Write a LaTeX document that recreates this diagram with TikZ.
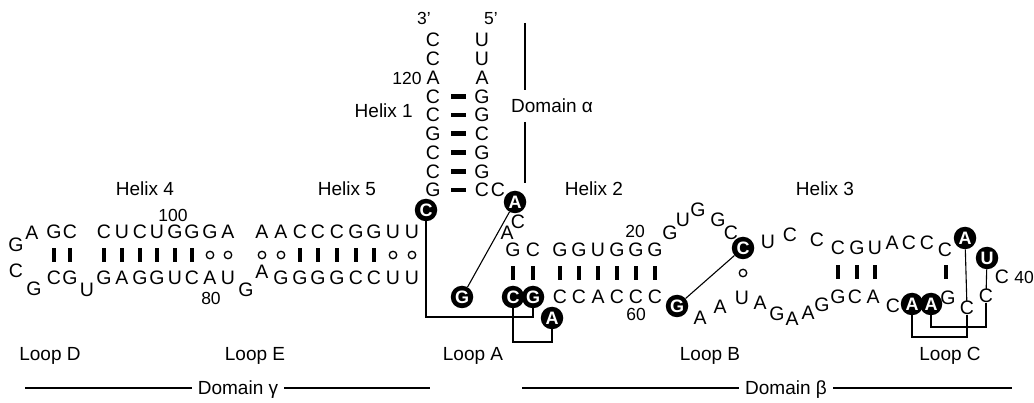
\documentclass[tikz,border=0pt]{standalone}
\usepackage{fontspec}
\setmainfont{Liberation Sans}
\begin{document}
\begin{tikzpicture}[x=1pt,y=-1pt,
  nt/.style={inner sep=0pt, font=\fontsize{19.5}{19.5}\selectfont, text height=14pt, text depth=0pt},
  num/.style={inner sep=0pt, font=\fontsize{17.5}{17.5}\selectfont, text height=12.5pt, text depth=0pt},
  lbl/.style={inner sep=0pt, font=\fontsize{19}{19}\selectfont, text height=13.6pt, text depth=0pt},
  bc/.style={circle, fill=black, text=white, inner sep=0pt, minimum size=22.5pt,
    font=\fontsize{18}{18}\selectfont\bfseries, text height=12.9pt, text depth=0pt},
  wob/.style={circle, draw, line width=1.3pt, inner sep=0pt, minimum size=7.5pt},
  vbar/.style={fill=black, inner sep=0pt, minimum width=4.8pt, minimum height=14pt},
  hbar/.style={fill=black, inner sep=0pt, minimum width=15pt, minimum height=4.8pt},
  link/.style={line width=1.1pt},
  rule/.style={line width=1.6pt},
]
\useasboundingbox (0,0) rectangle (1034,403);

% ---------- Helix 1 ----------
\foreach \b [count=\i] in {C,C,A,C,C,G,C,C,G}
  \node[nt] (ha\i) at (433,{21.25+18.75*\i}) {\b};
\foreach \b [count=\i] in {U,U,A,G,G,C,G,G,C}
  \node[nt] (hb\i) at (482,{21.25+18.75*\i}) {\b};
\foreach \i in {4,...,9}
  \node[hbar] (hp\i) at (458,{21.25+18.75*\i}) {};
\node[num] (p3) at (424,18) {3’};
\node[num] (p5) at (491,18) {5’};
\node[num] (n120) at (407,78) {120};
\node[lbl, anchor=east] (lh1) at (413,111) {Helix 1};
\node[nt] (jC1) at (498,190) {C};

% Domain alpha
\coordinate (da1) at (525,23);
\coordinate (da2) at (525,90);
\coordinate (da3) at (525,122);
\coordinate (da4) at (525,183);
\draw[rule] (da1) -- (da2);
\draw[rule] (da3) -- (da4);
\node[lbl, anchor=west] (dal) at (511,106) {Domain α};

% ---------- Helix 4 and loop D ----------
\foreach \x/\b [count=\i] in {54/G,70/C,104/C,122/U,140/C,157/U,175/G,192/G,210/G,228/A}
  \node[nt] (h4t\i) at (\x,232) {\b};
\foreach \x/\b [count=\i] in {54/C,70/G,104/G,122/A,140/G,157/G,175/U,192/C,210/A,228/U}
  \node[nt] (h4b\i) at (\x,278) {\b};
\foreach \x [count=\i] in {54,70,104,122,140,157,175,192}
  \node[vbar] (h4p\i) at (\x,255) {};
\foreach \x [count=\i] in {210,228}
  \node[wob] (h4w\i) at (\x,255) {};
\node[nt] (dG1) at (16,245) {G};
\node[nt] (dA) at (32,233) {A};
\node[nt] (dC) at (16,271) {C};
\node[nt] (dG2) at (34,289) {G};
\node[nt] (h4u) at (87,290) {U};
\node[num] (n100) at (173,215) {100};
\node[num] (n80) at (211,298) {80};
\node[lbl] (lh4) at (145,189) {Helix 4};

% ---------- Helix 5 and loop E ----------
\foreach \x/\b [count=\i] in {262/A,281/A,300/C,318/C,337/C,356/G,374/G,393/U,412/U}
  \node[nt] (h5t\i) at (\x,232) {\b};
\foreach \x/\b [count=\i] in {281/G,300/G,318/G,337/G,356/C,374/C,393/U,412/U}
  \node[nt] (h5b\i) at (\x,278) {\b};
\node[nt] (h5a) at (262,272) {A};
\node[nt] (eG) at (246,290) {G};
\foreach \x [count=\i] in {262,281,393,412}
  \node[wob] (h5w\i) at (\x,255) {};
\foreach \x [count=\i] in {300,318,337,356,374}
  \node[vbar] (h5p\i) at (\x,255) {};
\node[lbl] (lh5) at (347,189) {Helix 5};

% ---------- Loop A and helix 2 ----------
\node[bc] (aC1) at (426,210) {C};
\node[bc] (aA1) at (515,202) {A};
\node[nt] (aC2) at (518,222) {C};
\node[nt] (aA2) at (507,233) {A};
\foreach \x/\b [count=\i] in {513/G,533/C,560/G,579/G,598/U,617/G,636/G,655/G}
  \node[nt] (h2t\i) at (\x,250) {\b};
\foreach \x [count=\i] in {513,533,560,579,598,617,636,655}
  \node[vbar] (h2p\i) at (\x,273) {};
\node[bc] (aG1) at (462,297) {G};
\node[bc] (aC3) at (513,297) {C};
\node[bc] (aG2) at (533,297) {G};
\foreach \x/\b [count=\i] in {560/C,579/C,598/A,617/C,636/C,655/C}
  \node[nt] (h2b\i) at (\x,297) {\b};
\node[bc] (aA3) at (552,318) {A};
\node[num] (n20) at (635,231) {20};
\node[num] (n60) at (636,314) {60};
\node[lbl] (lh2) at (594,189) {Helix 2};

\coordinate (kA1) at (0,317);
\coordinate (kA2) at (0,342);
\draw[link] (aA1) -- (aG1);
\draw[link] (aC1) -- (aC1 |- kA1) -| (aG2);
\draw[link] (aC3) -- (aC3 |- kA2) -| (aA3);

% ---------- Loop B ----------
\foreach \x/\y/\b [count=\i] in {670/233/G,683/220/U,698/210/G,718/220/G,731/233/C,768/242/U,790/235/C,817/240/C}
  \node[nt] (bt\i) at (\x,\y) {\b};
\node[bc] (bC) at (743,248) {C};
\node[wob] (bw) at (743,273) {};
\node[bc] (bG) at (677,306) {G};
\foreach \x/\y/\b [count=\i] in {700/318/A,720/307/A,742/298/U,760/303/A,777/314/G,792/319/A,808/313/A,822/305/G}
  \node[nt] (bb\i) at (\x,\y) {\b};
\draw[link] (bC) -- (bG);

% ---------- Helix 3 and loop C ----------
\foreach \x/\y/\b [count=\i] in {838/248/C,857/248/G,875/248/U,892/243/A,909/243/C,927/243/C,945/250/C}
  \node[nt] (h3t\i) at (\x,\y) {\b};
\foreach \x [count=\i] in {838,857,875,946}
  \node[vbar] (h3p\i) at (\x,272) {};
\node[bc] (cA1) at (965,238) {A};
\node[bc] (cU1) at (987,258) {U};
\node[nt] (cC1) at (1002,277) {C};
\node[num] (n40) at (1024,277) {40};
\foreach \x/\y/\b [count=\i] in {838/297/G,855/297/C,873/297/A,893/306/C}
  \node[nt] (h3b\i) at (\x,\y) {\b};
\node[bc] (cA2) at (912,304) {A};
\node[bc] (cA3) at (931,304) {A};
\node[nt] (cG) at (948,298) {G};
\node[nt] (cC2) at (967,308) {C};
\node[nt] (cC3) at (986,296) {C};
\node[lbl] (lh3) at (825,189) {Helix 3};

\coordinate (kC1) at (0,337);
\coordinate (kC2) at (0,327);
\draw[link] (cA1) -- (cC2);
\draw[link] (cU1) -- (cC3);
\draw[link] (cA2) -- (cA2 |- kC1) -| (cC2);
\draw[link] (cA3) -- (cA3 |- kC2) -| (cC3);

% ---------- Loop names ----------
\node[lbl] (lD) at (50,354) {Loop D};
\node[lbl] (lE) at (255,354) {Loop E};
\node[lbl] (lA) at (473,354) {Loop A};
\node[lbl] (lB) at (710,354) {Loop B};
\node[lbl] (lC) at (950,354) {Loop C};

% ---------- Domains gamma and beta ----------
\node[lbl] (dg) at (238,388) {Domain γ};
\node[lbl] (db) at (786,388) {Domain β};
\coordinate (g1) at (25,388);
\coordinate (g2) at (430,388);
\coordinate (b1) at (522,388);
\coordinate (b2) at (1012,388);
\draw[rule] (g1) -- ([xshift=-6pt]dg.west);
\draw[rule] ([xshift=6pt]dg.east) -- (g2);
\draw[rule] (b1) -- ([xshift=-6pt]db.west);
\draw[rule] ([xshift=6pt]db.east) -- (b2);
\end{tikzpicture}
\end{document}
